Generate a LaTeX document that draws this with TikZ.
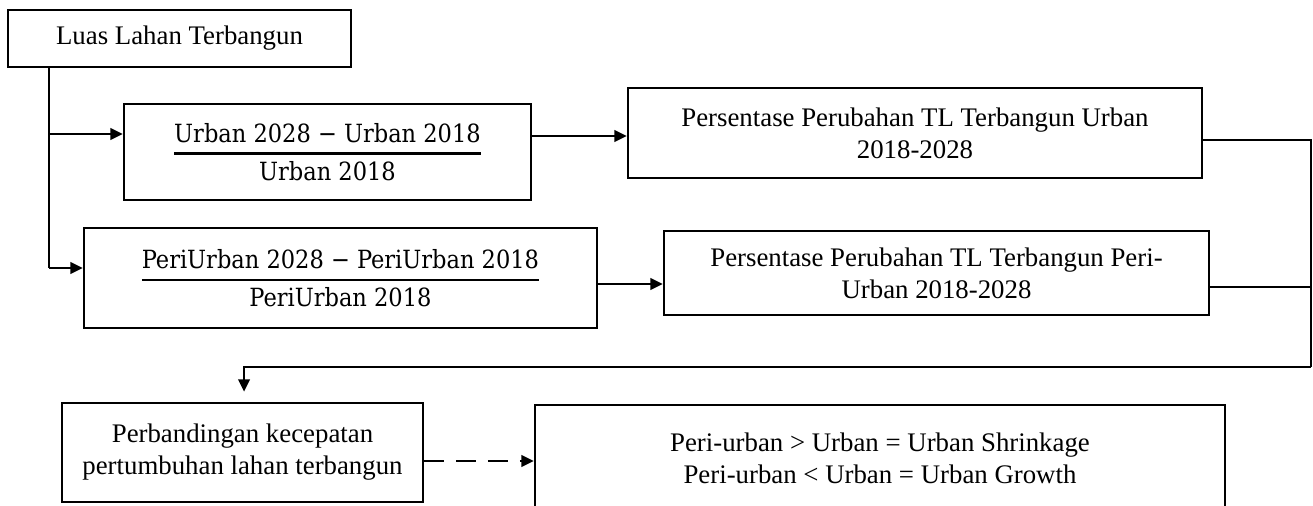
\documentclass[tikz,border=0pt]{standalone}
\usepackage{amsmath}
\usepackage{fontspec}
\setmainfont{Liberation Serif}
\newfontfamily\fracfont{DejaVu Serif Condensed}
\usepackage{tikz}
\usetikzlibrary{arrows.meta, positioning, calc}
\newlength\px
\setlength\px{0.455pt}
\newcommand{\ratio}[2]{$\genfrac{}{}{1pt}{0}{\text{\fracfont\fontsize{11.4}{14}\selectfont #1}}{\text{\fracfont\fontsize{11.4}{14}\selectfont #2}}$}

\begin{document}
\begin{tikzpicture}[
    x=0.455pt, y=-0.455pt,
    box/.style={rectangle, draw, line width=1.1pt, align=center, inner sep=0pt, font=\fontsize{12.2}{14.5}\selectfont},
    arrow/.style={-{Triangle[length=5.6pt, width=5.2pt]}, line width=1.1pt},
    link/.style={line width=1.1pt},
]
    \path[use as bounding box, clip] (0,0) rectangle (1313,506);

    \node[box, minimum width=343\px, minimum height=57\px] (luas) at (179.5,38.5) {Luas Lahan Terbangun};
    \node[box, minimum width=407\px, minimum height=96\px] (urban) at (327.5,152)
        {\ratio{Urban 2028 − Urban 2018}{Urban 2018}};
    \node[box, minimum width=513\px, minimum height=100\px] (peri) at (340.5,278)
        {\ratio{PeriUrban 2028 − PeriUrban 2018}{PeriUrban 2018}};
    \node[box, minimum width=574\px, minimum height=90\px] (persu) at (915,133) {Persentase Perubahan TL Terbangun Urban\\2018-2028};
    \node[box, minimum width=545\px, minimum height=84\px] (persp) at (936.5,273) {Persentase Perubahan TL Terbangun Peri-\\Urban 2018-2028};
    \node[box, minimum width=361\px, minimum height=99\px] (banding) at (242.5,452.5) {Perbandingan kecepatan\\pertumbuhan lahan terbangun};
    \node[box, minimum width=690\px, minimum height=107\px] (hasil) at (880,458.5) {Peri-urban > Urban = Urban Shrinkage\\Peri-urban < Urban = Urban Growth};

    % branch points
    \coordinate (b1) at (49,134);
    \coordinate (b2) at (49,268);
    \coordinate (a1) at (580,136);
    \coordinate (a2) at (630,284);
    \coordinate (c1) at (1250,140);
    \coordinate (c2) at (1250,287);
    \coordinate (r) at (1311,367);
    \coordinate (d) at (480,461);

    \draw[link] (luas.south -| b1) -- (b2);
    \draw[arrow] (b1) -- (b1 -| urban.west);
    \draw[arrow] (b2) -- (b2 -| peri.west);
    \draw[arrow] (urban.east |- a1) -- (persu.west |- a1);
    \draw[arrow] (peri.east |- a2) -- (persp.west |- a2);
    \draw[link] (persu.east |- c1) -- (c1 -| r) -- (r);
    \draw[link] (persp.east |- c2) -- (c2 -| r);
    \draw[arrow, shorten >=4.6pt] (r) -| ([xshift=0.7pt]banding.north);
    \draw[arrow, dash pattern=on 9pt off 5.5pt] (banding.east |- d) -- (hasil.west |- d);
\end{tikzpicture}
\end{document}
